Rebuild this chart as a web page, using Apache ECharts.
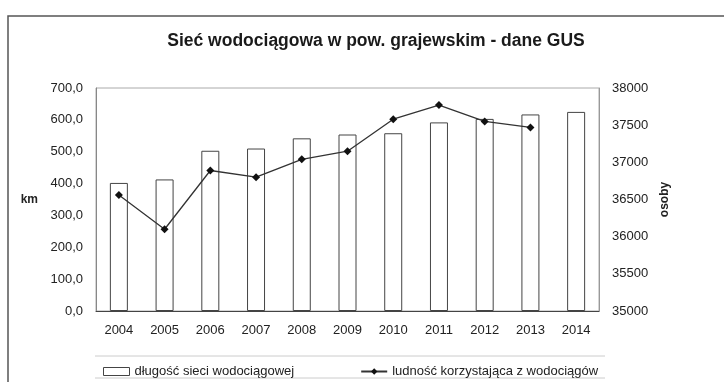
<!DOCTYPE html>
<html>
<head>
<meta charset="utf-8">
<script src="https://cdn.jsdelivr.net/npm/echarts@6/dist/echarts.min.js"></script>
<style>
  html, body { margin: 0; padding: 0; background: #fff; }
  #chart { width: 724px; height: 382px; }
</style>
</head>
<body>
<div id="chart"></div>
<script>
// Lata
const years = ['2004', '2005', '2006', '2007', '2008', '2009', '2010', '2011', '2012', '2013', '2014'];
// Długość sieci wodociągowej [km]
const networkLengthKm = [402, 413, 503, 510, 542, 554, 558, 592, 603, 617, 625];
// Ludność korzystająca z wodociągów [osoby]
const populationServed = [36560, 36100, 36890, 36800, 37040, 37150, 37580, 37770, 37550, 37470, null];

const titleText = 'Sieć wodociągowa w pow. grajewskim - dane GUS';
const leftAxisName = 'km';
const rightAxisName = 'osoby';
const barName = 'długość sieci wodociągowej';
const lineName = 'ludność korzystająca z wodociągów';

const FONT = '"Liberation Sans", Arial, sans-serif';
const TXT = '#222';

const chart = echarts.init(document.getElementById('chart'), null, { renderer: 'canvas' });

chart.setOption({
  animation: false,
  backgroundColor: '#fff',
  textStyle: { fontFamily: FONT, color: TXT },
  title: {
    text: titleText,
    left: 371,
    textAlign: 'center',
    top: 27,
    textStyle: { fontFamily: FONT, fontSize: 17.5, fontWeight: 'bold', color: '#1a1a1a' }
  },
  grid: {
    left: 96, right: 125, top: 88, bottom: 71,
    show: true, borderColor: '#aaa', borderWidth: 1
  },
  legend: {
    left: 98,
    top: 360,
    itemGap: 66,
    itemWidth: 26,
    itemHeight: 8,
    textStyle: { fontFamily: FONT, fontSize: 13, color: TXT },
    data: [
      { name: barName, icon: 'rect', itemStyle: { color: '#fff', borderColor: '#444', borderWidth: 1 } },
      { name: lineName }
    ]
  },
  xAxis: {
    type: 'category',
    data: years,
    axisLine: { lineStyle: { color: '#444', width: 1 } },
    axisTick: { show: false },
    axisLabel: { fontFamily: FONT, fontSize: 13, color: TXT, margin: 13 }
  },
  yAxis: [
    {
      type: 'value',
      min: 0, max: 700, interval: 100,
      name: leftAxisName,
      nameLocation: 'middle',
      nameRotate: 0,
      nameGap: 58,
      nameTextStyle: { fontFamily: FONT, fontSize: 12, fontWeight: 'bold', color: TXT },
      axisLine: { show: true, lineStyle: { color: '#888' } },
      axisTick: { show: false },
      splitLine: { show: false },
      axisLabel: {
        fontFamily: FONT, fontSize: 13, color: TXT, margin: 13,
        formatter: v => v.toFixed(1).replace('.', ',')
      }
    },
    {
      type: 'value',
      min: 35000, max: 38000, interval: 500,
      name: rightAxisName,
      nameLocation: 'middle',
      nameRotate: 90,
      nameGap: 58,
      nameTextStyle: { fontFamily: FONT, fontSize: 12, fontWeight: 'bold', color: TXT },
      axisLine: { show: true, lineStyle: { color: '#999' } },
      axisTick: { show: false },
      splitLine: { show: false },
      axisLabel: {
        fontFamily: FONT, fontSize: 13, color: TXT, margin: 13,
        formatter: v => String(v)
      }
    }
  ],
  series: [
    {
      name: barName,
      type: 'bar',
      yAxisIndex: 0,
      data: networkLengthKm,
      barWidth: 18,
      itemStyle: { color: '#fff', borderColor: '#444', borderWidth: 1 }
    },
    {
      name: lineName,
      type: 'line',
      yAxisIndex: 1,
      data: populationServed,
      symbol: 'diamond',
      symbolSize: 8,
      itemStyle: { color: '#111' },
      lineStyle: { color: '#333', width: 1.3 }
    }
  ],
  graphic: [
    {
      type: 'rect',
      shape: { x: 8, y: 16, width: 740, height: 400 },
      style: { fill: null, stroke: '#555', lineWidth: 1.5 },
      silent: true
    },
    {
      type: 'line',
      shape: { x1: 95, y1: 356, x2: 605, y2: 356 },
      style: { stroke: '#ccc', lineWidth: 1 },
      silent: true
    },
    {
      type: 'line',
      shape: { x1: 95, y1: 378, x2: 605, y2: 378 },
      style: { stroke: '#ccc', lineWidth: 1 },
      silent: true
    }
  ]
});
</script>
</body>
</html>
